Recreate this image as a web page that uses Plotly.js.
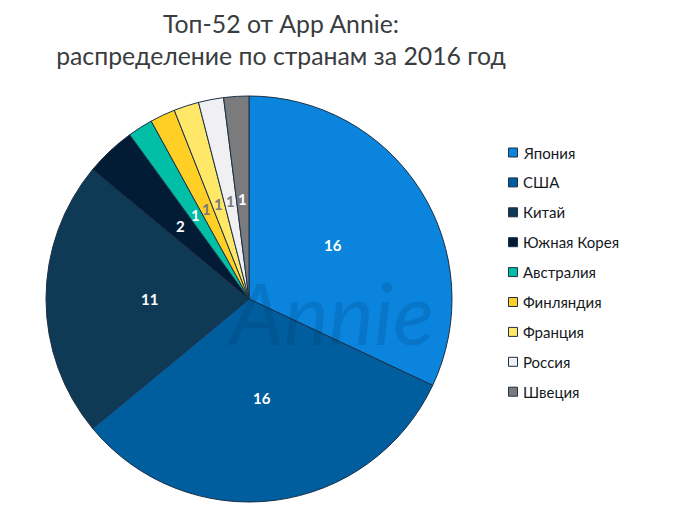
<!DOCTYPE html>
<html><head><meta charset="utf-8">
<script src="https://cdn.plot.ly/plotly-3.0.1.min.js"></script>
<style>html,body{margin:0;padding:0;background:#fff}</style></head>
<body><div id="chart" style="width:700px;height:508px"></div>
<script>
const countries = ["Япония","США","Китай","Южная Корея","Австралия","Финляндия","Франция","Россия","Швеция"];
const apps = [16,16,11,2,1,1,1,1,1];
const sliceColors = ["#0a84dc","#005e9f","#0f3a56","#031c36","#00bfa6","#ffcf26","#ffe768","#f0f0f2","#7b7b7d"];
const labelColors = ["#fff","#fff","#fff","#fff","#fff","#7b7b7d","#7b7b7d","#7b7b7d","#fff"];
const W=700,H=508;
const font="Lato, 'Open Sans', sans-serif";
const cx=249,cy=299,R=203,labelR=100;
const legendTop=152.5, legendStep=29.9;
const total=apps.reduce((a,b)=>a+b,0);
let cum=0;
const valueLabels=apps.map((v,i)=>{
  const a=(cum+v/2)/total*2*Math.PI; cum+=v;
  return {xref:'paper',yref:'paper',x:(cx+labelR*Math.sin(a))/W,y:1-(cy-labelR*Math.cos(a))/H,
    xanchor:'center',yanchor:'middle',showarrow:false,text:'<b>'+v+'</b>',
    font:{family:font,size:15,weight:900,color:labelColors[i]}};
});
const legendTexts=countries.map((c,i)=>({
  xref:'paper',yref:'paper',x:521/W,y:1-(legendTop+i*legendStep)/H,xanchor:'left',yanchor:'middle',
  text:c,showarrow:false,align:'left',font:{family:font,size:15,color:'#15191d'}
}));
const watermark={xref:'paper',yref:'paper',x:330/W,y:1-312/H,xanchor:'center',yanchor:'middle',showarrow:false,
  text:'<i>Annie</i>',font:{family:font,size:85,color:'rgba(0,30,70,0.13)'}};
const shapes=countries.map((c,i)=>{const y=legendTop+i*legendStep;return{
  type:'rect',xref:'paper',yref:'paper',x0:508.5/W,x1:517.5/W,y0:1-(y-4.5)/H,y1:1-(y+4.5)/H,
  fillcolor:sliceColors[i],line:{color:'#1c3047',width:1}}});
Plotly.newPlot('chart',[{
  type:'pie',labels:countries,values:apps,sort:false,direction:'clockwise',rotation:0,
  marker:{colors:sliceColors,line:{color:'#1c3047',width:1}},
  textinfo:'none',
  domain:{x:[(cx-R)/W,(cx+R)/W],y:[1-(cy+R)/H,1-(cy-R)/H]},hoverinfo:'label+value'
}],{
  width:W,height:H,margin:{l:0,r:0,t:0,b:0},paper_bgcolor:'#fff',showlegend:false,
  title:{text:'Топ-52 от App Annie:<br>распределение по странам за 2016 год',x:281/W,xanchor:'center',y:1-33/H,yanchor:'middle',
    font:{family:font,size:24.8,color:'#3a3d40'}},
  annotations:[watermark,...valueLabels,...legendTexts],shapes
},{displayModeBar:false});
</script></body></html>
